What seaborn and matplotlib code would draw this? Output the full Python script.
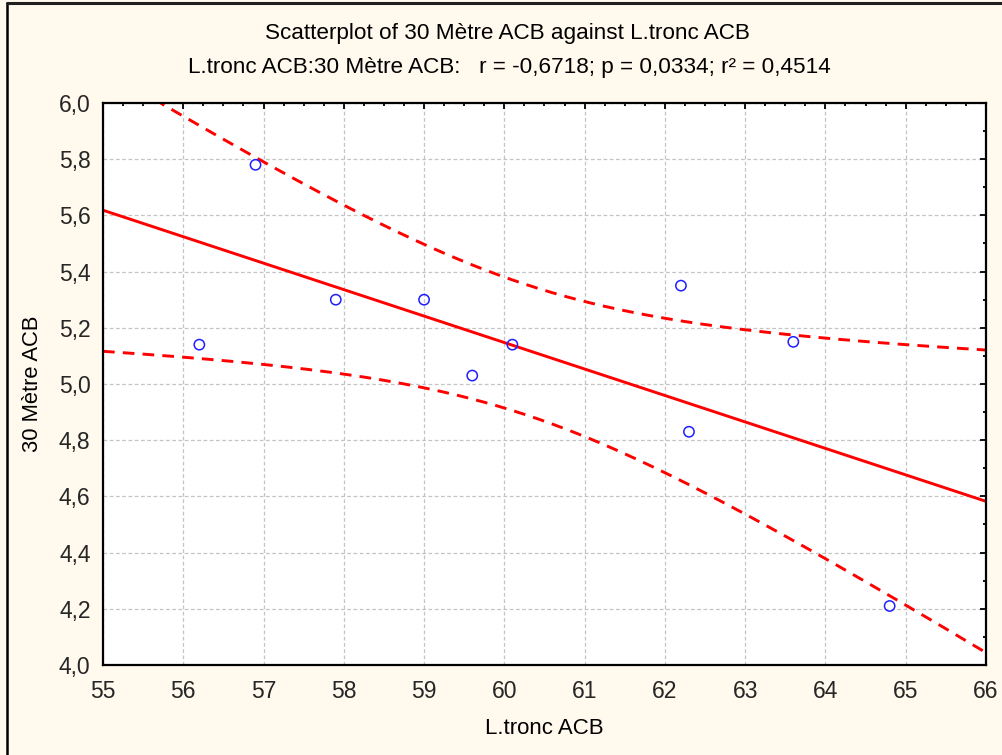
import numpy as np
import pandas as pd
import matplotlib
matplotlib.use("Agg")
import matplotlib.pyplot as plt
from matplotlib.ticker import MultipleLocator, FuncFormatter
from matplotlib.lines import Line2D
import seaborn as sns

# Observations
l_tronc = [56.2, 56.9, 57.9, 59.0, 59.6, 60.1, 62.2, 62.3, 63.6, 64.8]
metre30 = [5.14, 5.78, 5.30, 5.30, 5.03, 5.14, 5.35, 4.83, 5.15, 4.21]

x_ticks = [55, 56, 57, 58, 59, 60, 61, 62, 63, 64, 65, 66]
y_ticks = [4.0, 4.2, 4.4, 4.6, 4.8, 5.0, 5.2, 5.4, 5.6, 5.8, 6.0]

title1 = "Scatterplot of 30 Mètre ACB against L.tronc ACB"
title2 = "L.tronc ACB:30 Mètre ACB:   r = -0,6718; p = 0,0334; r² = 0,4514"

df = pd.DataFrame({"L.tronc ACB": l_tronc, "30 Mètre ACB": metre30})

# Least-squares fit and 95% confidence band for the mean
x = np.asarray(l_tronc, float)
y = np.asarray(metre30, float)
n = len(x)
xm, ym = x.mean(), y.mean()
sxx = ((x - xm) ** 2).sum()
sxy = ((x - xm) * (y - ym)).sum()
b1 = sxy / sxx
b0 = ym - b1 * xm
resid = y - (b0 + b1 * x)
s = np.sqrt((resid ** 2).sum() / (n - 2))
t_crit = 2.306  # t(0.975, df=8)
xs = np.linspace(x_ticks[0], x_ticks[-1], 200)
fit = b0 + b1 * xs
half = t_crit * s * np.sqrt(1.0 / n + (xs - xm) ** 2 / sxx)
band = pd.DataFrame({"x": xs, "fit": fit, "lo": fit - half, "hi": fit + half})

sns.set_theme(style="white")
plt.rcParams["font.family"] = ["Liberation Sans", "DejaVu Sans"]

bg = "#FFF9EE"
fig = plt.figure(figsize=(10.02, 7.55), dpi=100, facecolor=bg)
ax = fig.add_axes([0.1028, 0.1192, 0.8812, 0.7444])
ax.set_facecolor("white")

# grid
ax.grid(True, which="major", color="#c4c4c4", linestyle=(0, (3, 2)), linewidth=0.9)
ax.set_axisbelow(True)

sns.lineplot(data=band, x="x", y="fit", color="#ff0000", linewidth=2.1, ax=ax)
for col in ["lo", "hi"]:
    sns.lineplot(data=band, x="x", y=col, color="#ff0000", linewidth=2.1,
                 linestyle=(0, (4, 2.8)), ax=ax)

sns.scatterplot(data=df, x="L.tronc ACB", y="30 Mètre ACB", ax=ax,
                s=55, facecolor="none", edgecolor="#1f1fff", linewidth=1.1,
                zorder=5)

ax.set_xlim(x_ticks[0], x_ticks[-1])
ax.set_ylim(y_ticks[0], y_ticks[-1])
ax.set_xticks(x_ticks)
ax.set_yticks(y_ticks)
ax.xaxis.set_minor_locator(MultipleLocator(0.25))
ax.yaxis.set_minor_locator(MultipleLocator(0.1))
ax.yaxis.set_major_formatter(FuncFormatter(lambda v, p: f"{v:.1f}".replace(".", ",")))
ax.xaxis.set_major_formatter(FuncFormatter(lambda v, p: f"{v:.0f}"))

ax.tick_params(which="both", direction="in", top=True, right=True,
               color="black", width=1.3)
ax.tick_params(which="major", length=4.5, labelsize=16.5, pad=9)
ax.tick_params(which="minor", length=2.5)
ax.tick_params(axis="x", which="major", pad=10.5)

for sp in ax.spines.values():
    sp.set_color("black")
    sp.set_linewidth(1.6)

ax.set_xlabel("L.tronc ACB", fontsize=16, labelpad=11, color="black")
ax.set_ylabel("30 Mètre ACB", fontsize=15.8, labelpad=11, color="black")

fig.text(0.506, 0.956, title1, ha="center", va="center", fontsize=16.2, color="black")
fig.text(0.508, 0.910, title2, ha="center", va="center", fontsize=16.2, color="black")

# window frame (left and top edges)
fig.add_artist(Line2D([7 / 1002, 7 / 1002], [0, 1 - 3 / 755], color="black",
                      linewidth=1.8, transform=fig.transFigure))
fig.add_artist(Line2D([7 / 1002, 1], [1 - 3 / 755, 1 - 3 / 755], color="#202020",
                      linewidth=2.2, transform=fig.transFigure))

fig.savefig("out.png", dpi=100, facecolor=bg)
